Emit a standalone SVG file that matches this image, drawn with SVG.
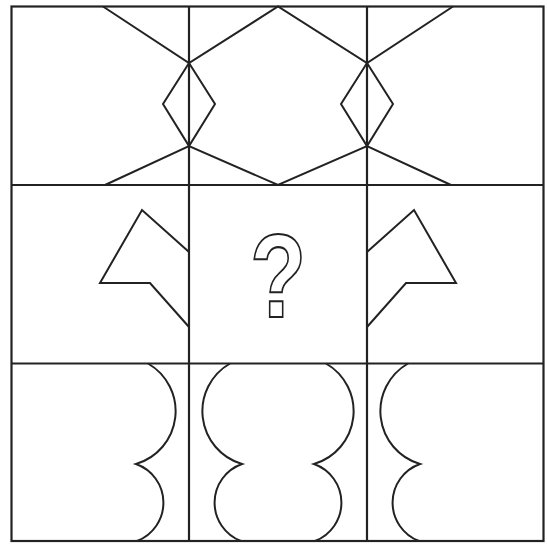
<svg xmlns="http://www.w3.org/2000/svg" width="547" height="547" viewBox="0 0 547 547">
  <style>
    .ln { fill: none; stroke: #222; stroke-width: 2; stroke-linejoin: miter; }
    .grid { fill: none; stroke: #222; stroke-width: 2.2; }
    .q { font-family: "Liberation Sans", Arial, sans-serif; font-size: 118px; font-weight: bold; fill: #fff; stroke: #222; stroke-width: 2; }
  </style>
  <defs>
    <path id="curve" d="M148,363.5 A55,55 0 0 1 136,464 A41,41 0 0 1 137,541"/>
  </defs>
  <rect width="547" height="547" fill="#fff"/>

  <g id="row1">
    <polyline class="ln" points="103,6.5 189,63 278,6.5 367,63 453,6.5"/>
    <polyline class="ln" points="105,185 189,146 278,185 367,146 451,185"/>
    <polygon class="ln" points="189,63 215,104 189,146 163,104"/>
    <polygon class="ln" points="367,63 393,104 367,146 341,104"/>
  </g>

  <g id="row2">
    <polyline class="ln" points="189,252 142,210 100,283 150,283 189,327"/>
    <polyline class="ln" points="367,252 414,210 456,283 406,283 367,327"/>
    <g id="question">
      <text class="q" text-anchor="middle" transform="translate(278,317) scale(0.78,1)">?</text>
    </g>
  </g>

  <g id="row3">
    <use href="#curve" class="ln"/>
    <use href="#curve" class="ln" transform="translate(378,0) scale(-1,1)"/>
    <use href="#curve" class="ln" transform="translate(178,0)"/>
    <use href="#curve" class="ln" transform="translate(556,0) scale(-1,1)"/>
  </g>

  <g id="grid">
    <rect class="grid" x="11.5" y="6.5" width="532" height="534.5"/>
    <line class="grid" x1="189" y1="6.5" x2="189" y2="541"/>
    <line class="grid" x1="367" y1="6.5" x2="367" y2="541"/>
    <line class="grid" x1="11.5" y1="185" x2="543.5" y2="185"/>
    <line class="grid" x1="11.5" y1="363.5" x2="543.5" y2="363.5"/>
  </g>
</svg>
